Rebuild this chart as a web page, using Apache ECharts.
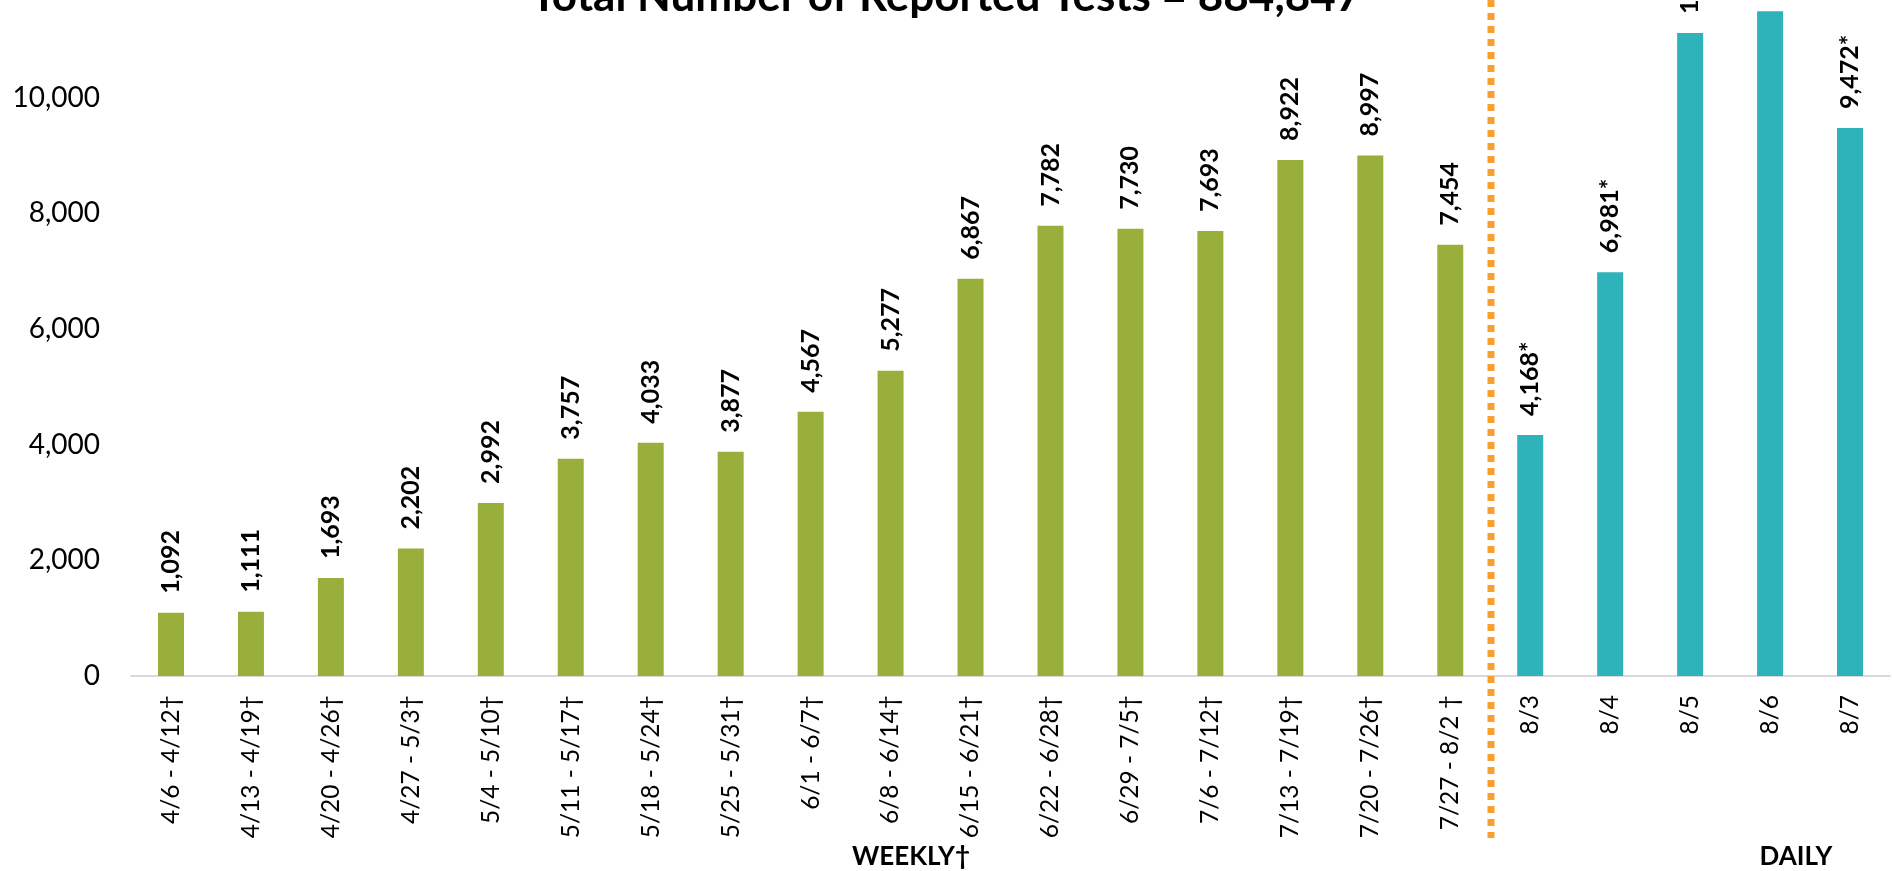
<!DOCTYPE html>
<html>
<head>
<meta charset="utf-8">
<title>Reported Tests</title>
<script src="https://cdn.jsdelivr.net/npm/echarts@6/dist/echarts.min.js"></script>
<style>
  html, body { margin: 0; padding: 0; background: #fff; }
  #main { width: 1892px; height: 871px; }
</style>
</head>
<body>
<div id="main"></div>
<script>
  "use strict";

  /**
   * Data
   */
  const weeklyLabels = ['4/6 - 4/12†', '4/13 - 4/19†', '4/20 - 4/26†', '4/27 - 5/3†', '5/4 - 5/10†',
    '5/11 - 5/17†', '5/18 - 5/24†', '5/25 - 5/31†', '6/1 - 6/7†', '6/8 - 6/14†', '6/15 - 6/21†',
    '6/22 - 6/28†', '6/29 - 7/5†', '7/6 - 7/12†', '7/13 - 7/19†', '7/20 - 7/26†', '7/27 - 8/2 †'];
  const dailyLabels = ['8/3', '8/4', '8/5', '8/6', '8/7'];
  const weeklyTests = [1092, 1111, 1693, 2202, 2992, 3757, 4033, 3877, 4567, 5277, 6867,
    7782, 7730, 7693, 8922, 8997, 7454];
  const dailyTests = [4168, 6981, 11115, 11490, 9472];
  const yTicks = [0, 2000, 4000, 6000, 8000, 10000];

  const categories = [...weeklyLabels, ...dailyLabels];
  const weeklySeries = [...weeklyTests, ...dailyLabels.map(() => null)];
  const dailySeries = [...weeklyLabels.map(() => null), ...dailyTests];

  const fmt = (v) => v.toLocaleString('en-US');

  const barLabel = (suffix) => ({
    show: true,
    position: 'top',
    rotate: 90,
    align: 'left',
    verticalAlign: 'middle',
    distance: 19,
    fontFamily: 'Lato',
    fontWeight: 'bold',
    fontSize: 25,
    color: '#000',
    formatter: (p) => fmt(p.value) + suffix
  });

  const chart = echarts.init(document.querySelector('#main'));
  chart.setOption({
    animation: false,
    title: {
      text: 'Total Number of Reported Tests = 884,847',
      left: 'center',
      top: -30,
      textStyle: { fontFamily: 'Lato', fontWeight: 'bold', fontSize: 44, color: '#000' }
    },
    // the chart is cut off at the top, so the axis runs past the canvas edge
    grid: { left: 131, right: 2, top: 0, bottom: 195, containLabel: false },
    xAxis: {
      type: 'category',
      data: categories,
      axisTick: { show: false },
      axisLine: { lineStyle: { color: '#d9d9d9', width: 2 } },
      axisLabel: {
        interval: 0,
        rotate: 90,
        margin: 19,
        fontFamily: 'Lato',
        fontSize: 24.5,
        color: '#000'
      }
    },
    yAxis: {
      type: 'value',
      min: 0,
      max: 11686,
      interval: 2000,
      splitLine: { show: false },
      axisLine: { show: false },
      axisLabel: {
        margin: 31,
        fontFamily: 'Lato',
        fontSize: 28,
        color: '#000',
        formatter: (v) => (yTicks.includes(v) ? fmt(v) : '')
      }
    },
    series: [
      {
        name: 'Weekly',
        type: 'bar',
        data: weeklySeries,
        barWidth: 26,
        barGap: '-100%',
        itemStyle: { color: '#98b03b' },
        label: barLabel('')
      },
      {
        name: 'Daily',
        type: 'bar',
        data: dailySeries,
        barWidth: 26,
        itemStyle: { color: '#2fb3ba' },
        label: barLabel('*')
      }
    ],
    graphic: [
      {
        // divider between weekly and daily
        type: 'line',
        shape: { x1: 1491, y1: 0, x2: 1491, y2: 838 },
        style: { stroke: '#f7a030', lineWidth: 7, lineDash: [7, 6] },
        z: 10
      },
      {
        type: 'text',
        style: { x: 911, y: 857, text: 'WEEKLY†', font: 'bold 26px Lato', fill: '#000', align: 'center', verticalAlign: 'middle' }
      },
      {
        type: 'text',
        style: { x: 1796, y: 857, text: 'DAILY', font: 'bold 26px Lato', fill: '#000', align: 'center', verticalAlign: 'middle' }
      }
    ]
  });
</script>
</body>
</html>
